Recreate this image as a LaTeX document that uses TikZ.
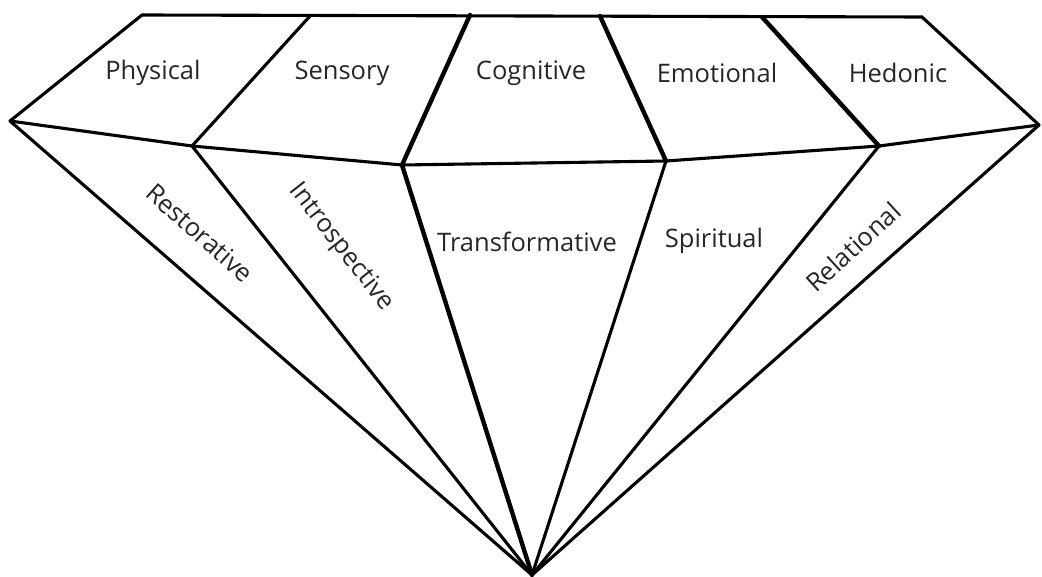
\documentclass[tikz,border=0pt]{standalone}
\usepackage{fontspec}
\setmainfont{Open Sans}
\begin{document}
\begin{tikzpicture}[x=1pt,y=-1pt,
  facet/.style={line width=3.1pt,line join=miter,line cap=round},
  heavy/.style={line width=4.4pt,line cap=round},
  lbl/.style={font=\fontsize{25.5}{27}\selectfont,text=black!85,inner sep=0pt}]
\useasboundingbox (0,0) rectangle (1042,577);
% girdle and crown corners
\coordinate (L) at (10,121);
\coordinate (R) at (1039,125);
\coordinate (T1) at (142,15);
\coordinate (T2) at (310,16);
\coordinate (T3) at (470,15);
\coordinate (T4) at (600,16);
\coordinate (T5) at (762,17);
\coordinate (T6) at (922,17);
\coordinate (G1) at (192,146);
\coordinate (G2) at (402,165);
\coordinate (G3) at (666,161);
\coordinate (G4) at (879,146);
\coordinate (P) at (532,575);
% crown outline and girdle
\draw[facet] (L) -- (T1) -- (T6) -- (R);
\draw[facet] (L) -- (G1) -- (G2) -- (G3) -- (G4) -- (R);
% crown dividers
\draw[facet] (T2) -- (G1);
\draw[heavy] (T3) -- (G2);
\draw[heavy] (T4) -- (G3);
\draw[heavy] (T5) -- (G4);
% pavilion lines to the culet
\draw[facet] (L) -- (P);
\draw[facet] (G1) -- (P);
\draw[heavy] (G2) -- (P);
\draw[facet] (G3) -- (P);
\draw[facet] (G4) -- (P);
\draw[facet] (R) -- (P);
% crown labels
\node[lbl] (phys) at (153,73) {Physical};
\node[lbl] (sens) at (342,73) {Sensory};
\node[lbl] (cogn) at (531,73) {Cognitive};
\node[lbl] (emot) at (717,73) {Emotional};
\node[lbl] (hedo) at (898,73) {Hedonic};
% pavilion labels
\node[lbl,rotate=-41.6] (rest) at (200,233) {Restorative};
\node[lbl,rotate=-52] (intr) at (341,247) {Introspective};
\node[lbl] (tran) at (527,242) {Transformative};
\node[lbl] (spir) at (714,241) {Spiritual};
\node[lbl,rotate=42.5] (rela) at (853,247) {Relational};
\end{tikzpicture}
\end{document}
